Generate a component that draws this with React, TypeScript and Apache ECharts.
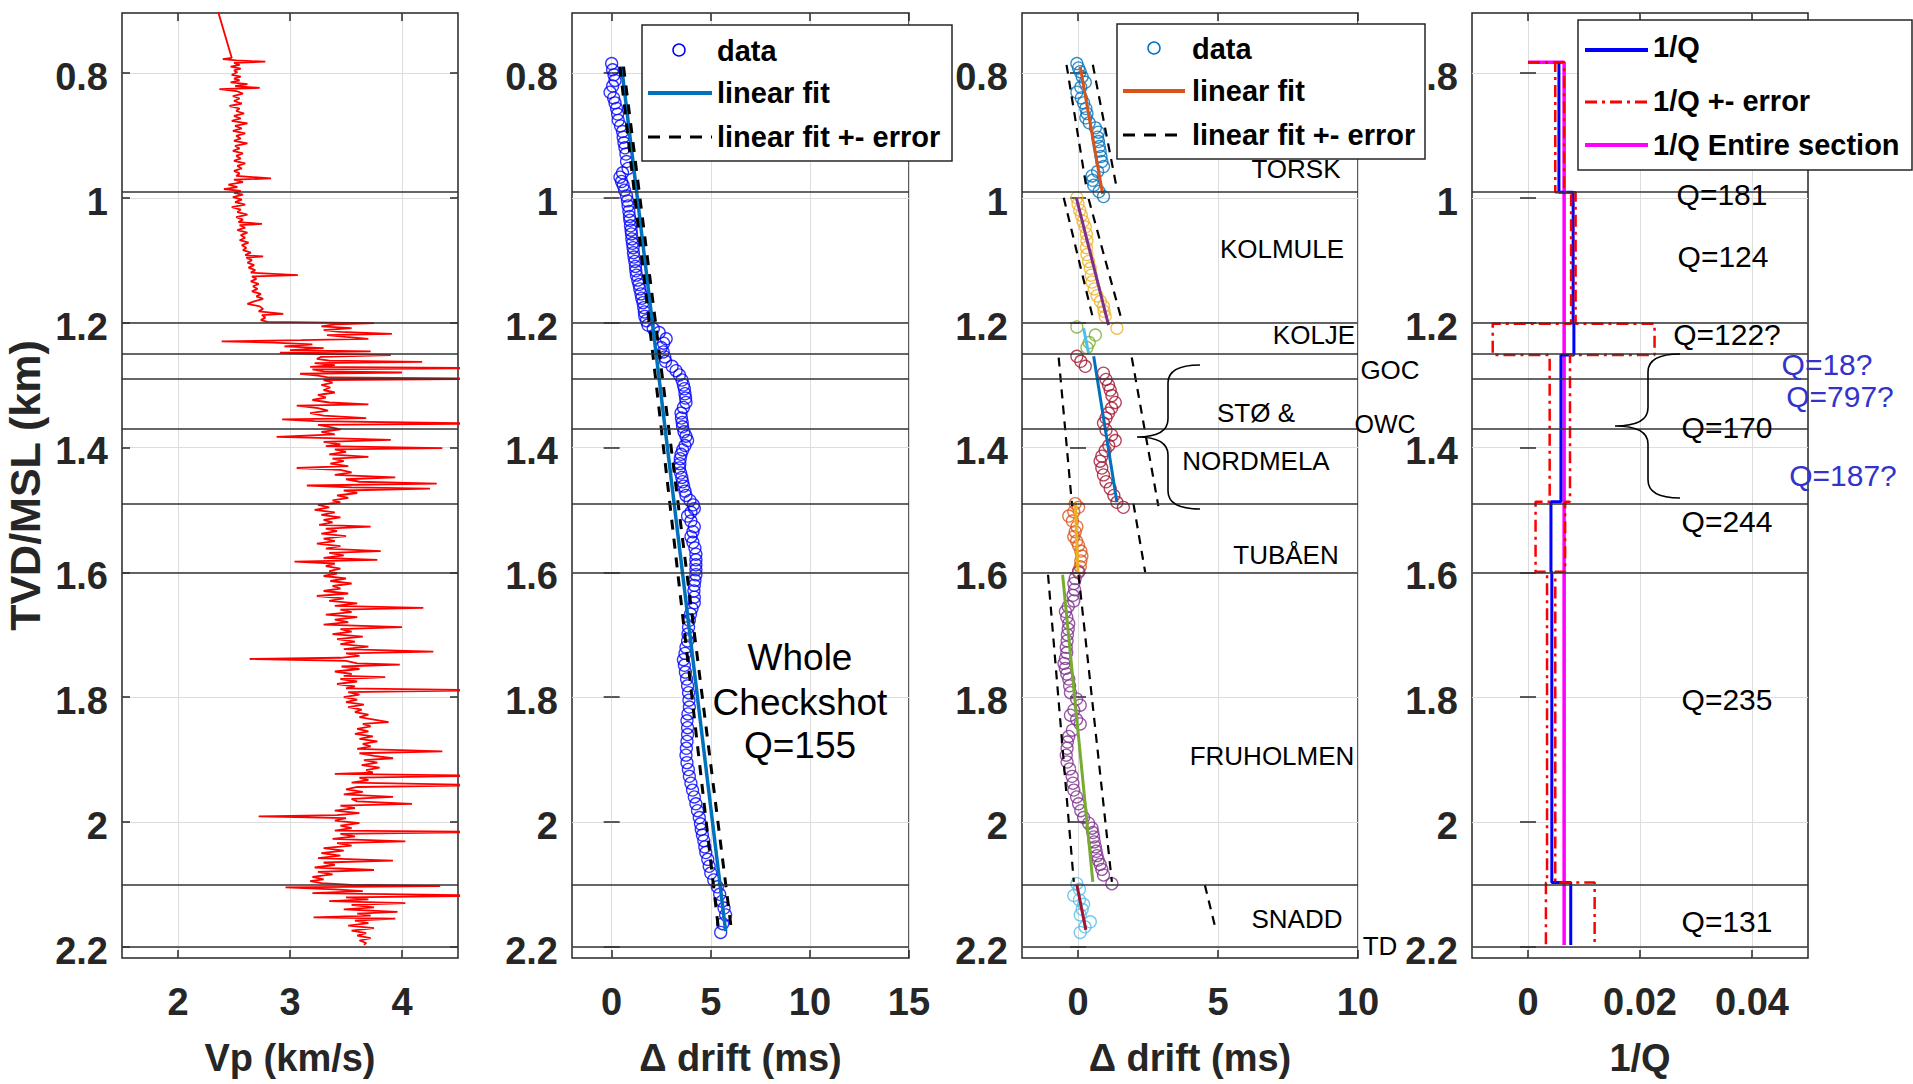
import React, { useEffect, useRef } from 'react';
import * as echarts from 'echarts';

// ---------------- DATA ----------------
const DEPTH_TICKS = [0.8, 1.0, 1.2, 1.4, 1.6, 1.8, 2.0, 2.2];
const VP_TICKS = [2, 3, 4];
const DRIFT_TICKS_A = [0, 5, 10, 15];
const DRIFT_TICKS_B = [0, 5, 10];
const INVQ_TICKS = [0, 0.02, 0.04];

// formation boundaries (km)
const FORMATION_LINES = [0.991, 1.202, 1.252, 1.288, 1.367, 1.487, 1.599, 2.097, 2.197];

// Vp log [depth km, Vp km/s]
const VP_LOG = [
  [0.703, 2.36], [0.776, 2.48], [0.778, 2.40], [0.780, 2.52], [0.782, 2.78], [0.784, 2.50], [0.787, 2.55], [0.790, 2.47], [0.793, 2.56], [0.796, 2.50], [0.799, 2.53],
  [0.803, 2.48], [0.806, 2.56], [0.809, 2.50], [0.812, 2.55], [0.815, 2.47], [0.818, 2.62], [0.821, 2.51], [0.824, 2.73], [0.826, 2.37], [0.829, 2.52], [0.833, 2.58], [0.837, 2.49], [0.841, 2.55], [0.845, 2.50], [0.849, 2.57],
  [0.853, 2.46], [0.857, 2.55], [0.861, 2.52], [0.865, 2.59], [0.869, 2.50], [0.873, 2.56], [0.877, 2.48], [0.881, 2.62], [0.885, 2.51], [0.889, 2.57], [0.893, 2.49], [0.897, 2.60], [0.901, 2.52], [0.905, 2.56], [0.909, 2.50], [0.913, 2.62], [0.917, 2.51], [0.921, 2.55], [0.925, 2.49], [0.929, 2.58], [0.933, 2.52], [0.937, 2.56], [0.941, 2.50], [0.945, 2.60], [0.949, 2.53], [0.953, 2.57], [0.957, 2.50], [0.961, 2.55], [0.965, 2.52], [0.969, 2.83], [0.971, 2.50], [0.975, 2.58], [0.979, 2.45], [0.983, 2.53], [0.986, 2.41], [0.989, 2.56], [0.992, 2.50],
  [0.995, 2.58], [0.999, 2.49], [1.003, 2.57], [1.007, 2.51], [1.011, 2.60], [1.015, 2.48], [1.019, 2.56], [1.023, 2.53], [1.027, 2.62], [1.031, 2.52], [1.035, 2.58], [1.039, 2.54], [1.042, 2.75], [1.044, 2.55], [1.048, 2.60], [1.052, 2.53], [1.056, 2.62], [1.060, 2.56], [1.064, 2.60], [1.068, 2.55], [1.072, 2.63], [1.076, 2.57], [1.080, 2.61], [1.084, 2.58], [1.088, 2.65], [1.092, 2.60], [1.094, 2.76], [1.096, 2.61], [1.100, 2.66],
  [1.104, 2.62], [1.108, 2.68], [1.112, 2.63], [1.116, 2.69], [1.120, 2.65], [1.124, 3.07], [1.126, 2.66], [1.130, 2.70], [1.134, 2.65], [1.138, 2.72], [1.142, 2.67], [1.146, 2.71], [1.150, 2.66], [1.154, 2.74], [1.158, 2.70], [1.162, 2.76], [1.166, 2.68], [1.170, 2.62], [1.174, 2.73], [1.178, 2.76], [1.182, 2.72], [1.186, 2.94], [1.188, 2.75], [1.192, 2.78], [1.196, 2.74], [1.199, 2.80],
  [1.201, 3.75], [1.203, 3.40], [1.206, 3.28], [1.209, 3.55], [1.212, 3.30], [1.215, 3.45], [1.218, 3.91], [1.220, 3.33], [1.223, 3.50], [1.226, 3.70], [1.228, 3.10], [1.230, 2.39], [1.232, 2.85], [1.235, 3.20], [1.238, 2.95], [1.241, 3.30], [1.244, 3.00], [1.246, 3.72], [1.248, 2.91], [1.250, 3.20],
  [1.252, 3.90], [1.255, 3.28], [1.258, 3.24], [1.261, 3.35], [1.263, 4.18], [1.265, 3.22], [1.268, 3.40], [1.271, 3.18], [1.273, 4.8], [1.275, 3.20], [1.278, 3.30], [1.280, 4.00], [1.282, 3.09], [1.285, 3.25], [1.288, 3.35], [1.290, 4.8], [1.292, 3.30],
  [1.296, 3.38], [1.300, 3.28], [1.304, 3.36], [1.308, 3.30], [1.312, 3.40], [1.316, 3.25], [1.320, 3.32], [1.324, 3.20], [1.328, 3.35], [1.331, 3.70], [1.333, 3.06], [1.337, 3.25], [1.341, 3.34], [1.345, 3.18], [1.349, 3.30], [1.353, 3.68], [1.355, 2.93], [1.358, 3.22], [1.362, 4.8], [1.364, 3.25], [1.367, 3.35],
  [1.371, 3.45], [1.375, 3.28], [1.379, 3.40], [1.383, 2.88], [1.385, 3.35], [1.388, 3.90], [1.391, 3.30], [1.395, 3.45], [1.398, 3.32], [1.401, 4.36], [1.403, 3.40], [1.407, 3.50], [1.411, 3.35], [1.415, 3.70], [1.418, 3.38], [1.422, 3.48], [1.426, 3.36], [1.430, 3.52], [1.433, 3.06], [1.436, 3.45], [1.440, 3.55], [1.444, 3.40], [1.448, 3.94], [1.451, 3.50], [1.455, 3.62], [1.458, 4.31], [1.461, 3.15], [1.464, 3.55], [1.466, 4.25], [1.469, 3.48], [1.473, 3.60], [1.477, 3.42], [1.481, 3.52], [1.485, 3.38], [1.488, 3.45],
  [1.492, 3.25], [1.496, 3.35], [1.500, 3.22], [1.504, 3.40], [1.508, 3.28], [1.512, 3.45], [1.516, 3.30], [1.520, 3.38], [1.524, 3.26], [1.527, 3.72], [1.530, 3.32], [1.534, 3.42], [1.538, 3.28], [1.542, 3.50], [1.546, 3.30], [1.550, 3.40], [1.554, 3.24], [1.558, 3.45], [1.562, 3.32], [1.566, 3.81], [1.569, 3.35], [1.573, 3.48], [1.577, 3.30], [1.580, 3.78], [1.583, 3.04], [1.586, 3.40], [1.590, 3.32], [1.594, 3.45], [1.598, 3.35],
  [1.602, 3.42], [1.606, 3.30], [1.610, 3.50], [1.614, 3.36], [1.618, 3.55], [1.622, 3.38], [1.626, 3.45], [1.630, 3.30], [1.634, 3.52], [1.638, 3.24], [1.642, 3.48], [1.646, 3.35], [1.650, 3.60], [1.654, 3.40], [1.657, 4.19], [1.660, 3.45], [1.664, 3.55], [1.668, 3.32], [1.672, 3.60], [1.676, 3.40], [1.680, 3.52], [1.684, 3.30], [1.688, 4.00], [1.691, 3.45], [1.695, 3.55], [1.699, 3.38], [1.703, 3.65], [1.707, 3.42], [1.711, 3.58], [1.715, 3.45], [1.719, 3.70], [1.723, 3.48], [1.727, 4.28], [1.730, 3.50], [1.734, 3.62], [1.737, 3.45], [1.739, 2.64], [1.742, 3.50], [1.746, 3.60], [1.748, 3.98], [1.751, 3.46], [1.755, 3.62], [1.759, 3.40], [1.763, 3.55], [1.766, 3.48], [1.768, 3.85], [1.771, 3.45], [1.775, 3.60], [1.779, 3.42], [1.783, 3.58], [1.786, 3.50], [1.789, 4.8], [1.792, 3.52], [1.796, 3.62], [1.800, 3.48],
  [1.804, 3.60], [1.808, 3.50], [1.812, 3.66], [1.816, 3.52], [1.820, 3.64], [1.824, 3.58], [1.828, 3.70], [1.832, 3.62], [1.836, 3.75], [1.840, 3.88], [1.843, 3.65], [1.847, 3.72], [1.851, 3.60], [1.855, 3.70], [1.859, 3.58], [1.863, 3.74], [1.867, 3.62], [1.871, 3.78], [1.875, 3.65], [1.879, 3.72], [1.883, 3.60], [1.887, 4.36], [1.890, 3.62], [1.894, 3.75], [1.898, 3.92], [1.901, 3.66], [1.905, 3.78], [1.909, 3.64], [1.913, 3.80], [1.917, 3.68], [1.921, 3.74], [1.923, 3.40], [1.926, 4.8], [1.929, 3.62], [1.933, 3.70], [1.937, 3.55], [1.941, 4.8], [1.944, 3.60], [1.948, 3.50], [1.952, 3.65], [1.956, 3.48], [1.960, 3.92], [1.963, 3.55], [1.967, 3.60], [1.971, 4.09], [1.974, 3.45], [1.978, 3.58], [1.982, 3.40], [1.986, 3.62], [1.989, 3.42], [1.991, 2.72], [1.994, 3.50], [1.998, 3.40], [2.002, 3.62], [2.006, 3.45], [2.010, 3.55], [2.014, 3.40],
  [2.016, 4.8], [2.019, 3.45], [2.023, 3.58], [2.027, 3.38], [2.031, 4.03], [2.034, 3.42], [2.038, 3.55], [2.042, 3.30], [2.046, 3.48], [2.050, 3.28], [2.054, 3.45], [2.058, 3.25], [2.062, 3.92], [2.065, 3.30], [2.069, 3.40], [2.073, 3.22], [2.077, 3.75], [2.080, 3.25], [2.084, 3.38], [2.088, 3.20], [2.092, 3.30], [2.095, 3.18], [2.098, 3.28],
  [2.101, 3.55], [2.103, 4.34], [2.105, 2.96], [2.108, 3.40], [2.111, 3.65], [2.114, 3.20], [2.118, 4.8], [2.121, 3.50], [2.124, 3.70], [2.127, 3.35], [2.130, 4.03], [2.133, 3.55], [2.137, 3.75], [2.140, 3.48], [2.144, 3.96], [2.147, 3.60], [2.150, 3.72], [2.153, 3.21], [2.155, 3.94], [2.158, 3.58], [2.162, 3.70], [2.166, 3.52], [2.170, 3.75], [2.174, 3.55], [2.178, 3.68], [2.182, 3.60], [2.186, 3.72], [2.190, 3.62], [2.194, 3.68], [2.197, 3.66],
];

// Whole checkshot drift [depth, drift ms]
const DRIFT_ALL = [
  [0.785, 0.00], [0.795, 0.05], [0.803, 0.12], [0.812, 0.17], [0.821, 0.05], [0.831, -0.08], [0.840, 0.10], [0.848, 0.17], [0.857, 0.25], [0.866, 0.30], [0.876, 0.33], [0.885, 0.45], [0.894, 0.55], [0.903, 0.58], [0.912, 0.62], [0.920, 0.67], [0.930, 0.72], [0.942, 0.75], [0.953, 0.83], [0.960, 0.55], [0.967, 0.42], [0.974, 0.50], [0.980, 0.58], [0.988, 0.65], [0.997, 0.75],
  [1.005, 0.80], [1.013, 0.83], [1.022, 0.87], [1.030, 0.90], [1.036, 0.92], [1.045, 0.95], [1.052, 0.98], [1.058, 1.00], [1.066, 1.02], [1.073, 1.05], [1.080, 1.08], [1.088, 1.10], [1.095, 1.13], [1.102, 1.17], [1.110, 1.20], [1.117, 1.22], [1.124, 1.25], [1.132, 1.32], [1.139, 1.38], [1.146, 1.42], [1.154, 1.48], [1.161, 1.52], [1.168, 1.58], [1.176, 1.62], [1.183, 1.65], [1.190, 1.67], [1.197, 1.75],
  [1.204, 1.83], [1.210, 2.10], [1.216, 2.40], [1.226, 2.75], [1.233, 2.62], [1.240, 2.50], [1.247, 2.60], [1.255, 2.68], [1.262, 2.72], [1.270, 3.05], [1.277, 3.25], [1.284, 3.42], [1.292, 3.55], [1.300, 3.62], [1.306, 3.67], [1.314, 3.70], [1.321, 3.73], [1.328, 3.75], [1.336, 3.62], [1.345, 3.50], [1.353, 3.52], [1.360, 3.56], [1.367, 3.58], [1.375, 3.65], [1.382, 3.75], [1.389, 3.83], [1.397, 3.70],
  [1.404, 3.58], [1.411, 3.50], [1.418, 3.46], [1.426, 3.44], [1.433, 3.42], [1.441, 3.48], [1.448, 3.54], [1.455, 3.58], [1.462, 3.63], [1.470, 3.70], [1.477, 3.75], [1.485, 3.95], [1.492, 4.12], [1.498, 4.17], [1.504, 4.00], [1.510, 3.83], [1.518, 4.00], [1.527, 4.17], [1.535, 4.10], [1.543, 4.00], [1.552, 4.10], [1.561, 4.20], [1.571, 4.25], [1.580, 4.25], [1.588, 4.25], [1.596, 4.25],
  [1.604, 4.25], [1.613, 4.20], [1.621, 4.17], [1.630, 4.15], [1.640, 4.17], [1.649, 4.17], [1.658, 4.05], [1.667, 3.98], [1.677, 3.92], [1.688, 3.88], [1.699, 3.85], [1.710, 3.83], [1.720, 3.75], [1.730, 3.70], [1.740, 3.62], [1.749, 3.67], [1.760, 3.72], [1.771, 3.78], [1.782, 3.83], [1.793, 3.88],
  [1.805, 3.90], [1.816, 3.92], [1.827, 3.85], [1.838, 3.80], [1.849, 3.83], [1.860, 3.83], [1.871, 3.80], [1.882, 3.77], [1.893, 3.75], [1.905, 3.80], [1.916, 3.87], [1.927, 3.92], [1.938, 4.00], [1.949, 4.08], [1.960, 4.17], [1.971, 4.25], [1.982, 4.33], [1.993, 4.42],
  [2.003, 4.48], [2.012, 4.52], [2.021, 4.58], [2.030, 4.65], [2.040, 4.70], [2.049, 4.75], [2.060, 4.85], [2.071, 4.92], [2.082, 5.00], [2.093, 5.15], [2.104, 5.33], [2.116, 5.45], [2.127, 5.58], [2.138, 5.67], [2.149, 5.75], [2.163, 5.60], [2.177, 5.50],
];
const DRIFT_ALL_FIT = [[0.79, 0.50], [2.175, 5.75]];
const DRIFT_ALL_LOW = [[0.79, 0.42], [2.175, 5.40]];
const DRIFT_ALL_HIGH = [[0.79, 0.60], [2.175, 6.05]];

// Per-formation drift [depth, drift ms]
const TORSK_DATA = [[0.785, -0.04], [0.792, 0.02], [0.798, 0.08], [0.806, 0.15], [0.815, 0.26], [0.823, 0.10], [0.831, -0.04], [0.840, 0.12], [0.848, 0.20], [0.857, 0.28], [0.865, 0.32], [0.872, 0.28], [0.880, 0.40], [0.888, 0.62], [0.895, 0.73], [0.903, 0.70], [0.910, 0.73], [0.918, 0.76], [0.925, 0.79], [0.934, 0.82], [0.942, 0.85], [0.950, 0.91], [0.958, 0.70], [0.965, 0.50], [0.972, 0.52], [0.980, 0.56], [0.990, 0.75], [0.998, 0.91]];
const TORSK_FIT = [[0.79, 0.08], [0.994, 0.88]];
const TORSK_LOW = [[0.787, -0.41], [0.989, 0.32]];
const TORSK_HIGH = [[0.787, 0.53], [0.986, 1.39]];

const KOLMULE_DATA = [[1.000, -0.04], [1.010, 0.00], [1.020, 0.06], [1.028, 0.12], [1.038, 0.18], [1.047, 0.26], [1.058, 0.30], [1.069, 0.32], [1.080, 0.30], [1.091, 0.32], [1.102, 0.38], [1.113, 0.44], [1.124, 0.47], [1.135, 0.50], [1.146, 0.58], [1.157, 0.68], [1.166, 0.80], [1.174, 0.91], [1.182, 0.93], [1.190, 0.97], [1.209, 1.39]];
const KOLMULE_FIT = [[1.0, -0.06], [1.204, 1.09]];
const KOLMULE_LOW = [[1.0, -0.51], [1.198, 0.56]];
const KOLMULE_HIGH = [[1.002, 0.38], [1.196, 1.56]];

const KOLJE_DATA = [[1.207, -0.04], [1.220, 0.62], [1.232, 0.40], [1.240, 0.32]];
const KOLJE_FIT = [[1.209, 0.20], [1.250, 0.38]];

const STO_DATA = [[1.254, -0.04], [1.262, 0.10], [1.270, 0.26], [1.281, 0.91], [1.291, 1.00], [1.300, 1.09], [1.308, 1.15], [1.317, 1.21], [1.328, 1.33], [1.337, 1.20], [1.345, 1.09], [1.353, 1.00], [1.361, 0.91], [1.372, 1.00], [1.380, 1.20], [1.389, 1.33], [1.397, 1.10], [1.405, 0.97], [1.414, 0.85], [1.422, 0.79], [1.433, 0.85], [1.444, 0.91], [1.455, 1.00], [1.466, 1.15], [1.477, 1.28], [1.488, 1.39], [1.496, 1.62]];
const STO_FIT = [[1.254, 0.56], [1.488, 1.39]];
const STO_LOW = [[1.256, -0.69], [1.494, -0.21]];
const STO_HIGH = [[1.256, 1.92], [1.494, 2.87]];

const TUBAEN_DATA = [[1.490, -0.10], [1.496, 0.02], [1.503, -0.15], [1.510, -0.33], [1.518, -0.20], [1.527, -0.04], [1.535, -0.10], [1.543, -0.15], [1.550, -0.05], [1.557, 0.02], [1.566, 0.10], [1.574, 0.14], [1.582, 0.10], [1.591, 0.08], [1.598, 0.02]];
const TUBAEN_FIT = [[1.488, -0.10], [1.600, 0.00]];
const TUBAEN_HIGH = [[1.490, 1.98], [1.600, 2.40]];

const FRU_DATA = [[1.600, 0.02], [1.610, -0.10], [1.618, -0.15], [1.628, -0.12], [1.637, -0.18], [1.646, -0.15], [1.655, -0.35], [1.663, -0.45], [1.672, -0.40], [1.682, -0.33], [1.691, -0.35], [1.700, -0.38], [1.710, -0.39], [1.720, -0.42], [1.729, -0.40], [1.738, -0.45], [1.746, -0.50], [1.754, -0.45], [1.763, -0.40], [1.771, -0.33], [1.782, -0.30], [1.793, -0.27], [1.803, -0.05], [1.813, 0.08], [1.821, -0.15], [1.829, -0.27], [1.836, -0.05], [1.843, 0.08], [1.853, -0.20], [1.863, -0.33], [1.872, -0.38], [1.882, -0.39], [1.893, -0.42], [1.904, -0.39], [1.915, -0.30], [1.927, -0.21], [1.938, -0.18], [1.949, -0.15], [1.960, -0.05], [1.971, 0.02], [1.982, 0.10], [1.993, 0.20], [2.002, 0.38], [2.010, 0.50], [2.017, 0.53], [2.024, 0.56], [2.032, 0.58], [2.040, 0.62], [2.047, 0.65], [2.054, 0.68], [2.061, 0.72], [2.068, 0.79], [2.076, 0.85], [2.085, 0.91], [2.099, 1.21]];
const FRU_FIT = [[1.604, -0.55], [2.096, 0.53]];
const FRU_LOW = [[1.604, -1.07], [2.096, -0.15]];
const FRU_HIGH = [[1.604, 0.02], [2.096, 1.21]];

const SNADD_DATA = [[2.099, -0.04], [2.108, 0.05], [2.118, -0.15], [2.125, 0.05], [2.132, 0.20], [2.140, 0.15], [2.149, 0.08], [2.160, 0.44], [2.168, 0.25], [2.177, 0.08]];
const SNADD_FIT = [[2.101, -0.04], [2.173, 0.28]];
const SNADD_HIGH = [[2.101, 4.53], [2.165, 4.88]];

// 1/Q panel
const Q_TOPS = [0.783, 0.991, 1.202, 1.252, 1.487, 1.599, 2.097];
const Q_BOTTOMS = [0.991, 1.202, 1.252, 1.487, 1.599, 2.097, 2.197];
const Q_VALUES = [181, 124, 122, 170, 244, 235, 131];
const INVQ_LOW = [0.00487, 0.0077, -0.0063, 0.00387, 0.00135, 0.0034, 0.0032];
const INVQ_HIGH = [0.00645, 0.0085, 0.0226, 0.0075, 0.00663, 0.00487, 0.0119];
const Q_ENTIRE = 155;

// ---------------- LAYOUT ----------------
const FONT = "'Liberation Sans', Arial, Helvetica, sans-serif";
const AX = '#262626';
const GRID_LEFT = [122, 572, 1022, 1472];
const GRID_WIDTH = [336, 337, 336, 336];
const GRID_TOP = 13;
const GRID_HEIGHT = 945;
const X_RANGES = [[1.5, 4.5], [-2, 15], [-2, 10], [-0.01, 0.05]];
const X_TICKS = [VP_TICKS, DRIFT_TICKS_A, DRIFT_TICKS_B, INVQ_TICKS];
const X_NAMES = ['Vp (km/s)', 'Δ drift (ms)', 'Δ drift (ms)', '1/Q'];
const DEPTH_MIN = 0.704;
const DEPTH_MAX = 2.218;

const C1 = '#0072BD', C2 = '#D95319', C3 = '#EDB120', C4 = '#7E2F8E', C5 = '#77AC30', C6 = '#4DBEEE', C7 = '#A2142F';

const toXY = (pairs: number[][]) => pairs.map(([d, v]) => [v, d]);
function stairs(values: number[], tops: number[], bottoms: number[]) {
  const pts: number[][] = [];
  values.forEach((v, i) => {
    pts.push([v, tops[i]]);
    pts.push([v, bottoms[i]]);
  });
  return pts;
}
function bracePath(xe: number, xm: number, xt: number, yt: number, ym: number, yb: number, r: number) {
  return `M ${xe} ${yt} Q ${xm} ${yt} ${xm} ${yt + r} L ${xm} ${ym - r} Q ${xm} ${ym} ${xt} ${ym} Q ${xm} ${ym} ${xm} ${ym + r} L ${xm} ${yb - r} Q ${xm} ${yb} ${xe} ${yb}`;
}

export default function App() {
  const ref = useRef<HTMLDivElement>(null);
  useEffect(() => {
    if (!ref.current) return;
    echarts.graphic.registerShape('brace3', echarts.graphic.extendPath(bracePath(1200, 1168, 1137, 365, 437, 509, 18), {}));
    echarts.graphic.registerShape('brace4', echarts.graphic.extendPath(bracePath(1680, 1648, 1615, 354, 426, 498, 18), {}));
    const chart = echarts.init(ref.current, undefined, { renderer: 'svg' });

    const grids = GRID_LEFT.map((l, i) => ({
      left: l, top: GRID_TOP, width: GRID_WIDTH[i], height: GRID_HEIGHT,
      show: true, borderColor: AX, borderWidth: 1.5, backgroundColor: 'transparent', containLabel: false,
    }));
    const labelStyle = { fontSize: 38, fontWeight: 'bold', fontFamily: FONT, color: AX };
    const xAxes: any[] = [];
    const yAxes: any[] = [];
    for (let i = 0; i < 4; i++) {
      xAxes.push({
        type: 'value', gridIndex: i, position: 'bottom', min: X_RANGES[i][0], max: X_RANGES[i][1],
        axisLine: { show: false },
        axisTick: { show: true, inside: true, length: 8, customValues: X_TICKS[i], lineStyle: { color: AX, width: 1.5 } },
        axisLabel: { show: true, customValues: X_TICKS[i], margin: 25, ...labelStyle },
        splitLine: { show: true, lineStyle: { color: '#dddddd', width: 1 } },
        name: X_NAMES[i], nameLocation: 'middle', nameGap: 81,
        nameTextStyle: { ...labelStyle },
      });
      yAxes.push({
        type: 'value', gridIndex: i, position: 'left', inverse: true, min: DEPTH_MIN, max: DEPTH_MAX,
        axisLine: { show: false },
        axisTick: { show: true, inside: true, length: 8, customValues: DEPTH_TICKS, lineStyle: { color: AX, width: 1.5 } },
        axisLabel: { show: true, customValues: DEPTH_TICKS, margin: 14, verticalAlign: 'top', lineHeight: 8, ...labelStyle },
        splitLine: { show: true, lineStyle: { color: '#dddddd', width: 1 } },
        ...(i === 0 ? { name: 'TVD/MSL (km)', nameLocation: 'middle', nameGap: 76, nameTextStyle: { ...labelStyle, fontSize: 43 } } : {}),
      });
    }
    for (let i = 0; i < 4; i++) {
      xAxes.push({
        type: 'value', gridIndex: i, position: 'top', min: X_RANGES[i][0], max: X_RANGES[i][1],
        axisLine: { show: false },
        axisTick: { show: true, inside: true, length: 8, customValues: X_TICKS[i], lineStyle: { color: AX, width: 1.5 } },
        axisLabel: { show: false }, splitLine: { show: false },
      });
      yAxes.push({
        type: 'value', gridIndex: i, position: 'right', inverse: true, min: DEPTH_MIN, max: DEPTH_MAX,
        axisLine: { show: false },
        axisTick: { show: true, inside: true, length: 8, customValues: DEPTH_TICKS, lineStyle: { color: AX, width: 1.5 } },
        axisLabel: { show: false }, splitLine: { show: false },
      });
    }

    const formationMarkLine = {
      silent: true, symbol: ['none', 'none'], label: { show: false },
      lineStyle: { color: '#333333', width: 1.6, type: 'solid' },
      emphasis: { disabled: true },
      data: FORMATION_LINES.map((d) => ({ yAxis: d })),
    };
    const line = (g: number, data: number[][], color: string, width: number, type: any = 'solid', extra: any = {}) => ({
      type: 'line', xAxisIndex: g, yAxisIndex: g, data: toXY(data), symbol: 'none', showSymbol: false,
      lineStyle: { color, width, type }, silent: true, ...extra,
    });
    const circles = (g: number, data: number[][], color: string, extra: any = {}) => ({
      type: 'scatter', xAxisIndex: g, yAxisIndex: g, data: toXY(data), symbol: 'circle', symbolSize: 12,
      itemStyle: { color: 'rgba(0,0,0,0)', borderColor: color, borderWidth: 1.3 }, silent: true, ...extra,
    });
    const DASH = [9, 7];

    const invQ = Q_VALUES.map((q) => 1 / q);
    const magenta = [[Q_TOPS[0], 0], [Q_TOPS[0], 1 / Q_ENTIRE], [Q_BOTTOMS[Q_BOTTOMS.length - 1], 1 / Q_ENTIRE]];
    const blueStairs = stairs(invQ, Q_TOPS, Q_BOTTOMS).map(([v, d]) => [d, v]);
    const lowStairs = [[Q_TOPS[0], 0], ...stairs(INVQ_LOW, Q_TOPS, Q_BOTTOMS).map(([v, d]) => [d, v])];
    const highStairs = [[Q_TOPS[0], 0], ...stairs(INVQ_HIGH, Q_TOPS, Q_BOTTOMS).map(([v, d]) => [d, v])];
    const DASHDOT = [12, 5, 3, 5];

    const series: any[] = [
      // panel 1
      line(0, VP_LOG, '#ff0000', 1.8, 'solid', { markLine: formationMarkLine }),
      // panel 2
      circles(1, DRIFT_ALL, '#0000ff', { markLine: formationMarkLine }),
      line(1, DRIFT_ALL_FIT, C1, 3.5),
      line(1, DRIFT_ALL_LOW, '#000000', 3, [10, 9]),
      line(1, DRIFT_ALL_HIGH, '#000000', 3, [10, 9]),
      // panel 3
      circles(2, TORSK_DATA, C1, { markLine: formationMarkLine }),
      line(2, TORSK_FIT, C2, 3),
      line(2, TORSK_LOW, '#000', 2.2, DASH),
      line(2, TORSK_HIGH, '#000', 2.2, DASH),
      circles(2, KOLMULE_DATA, C3),
      line(2, KOLMULE_FIT, C4, 3),
      line(2, KOLMULE_LOW, '#000', 2.2, DASH),
      line(2, KOLMULE_HIGH, '#000', 2.2, DASH),
      circles(2, KOLJE_DATA, C5),
      line(2, KOLJE_FIT, C6, 3),
      circles(2, STO_DATA, C7),
      line(2, STO_FIT, C1, 3),
      line(2, STO_LOW, '#000', 2.2, DASH),
      line(2, STO_HIGH, '#000', 2.2, DASH),
      circles(2, TUBAEN_DATA, C2),
      line(2, TUBAEN_FIT, C3, 3),
      line(2, TUBAEN_HIGH, '#000', 2.2, DASH),
      circles(2, FRU_DATA, C4),
      line(2, FRU_FIT, C5, 3),
      line(2, FRU_LOW, '#000', 2.2, DASH),
      line(2, FRU_HIGH, '#000', 2.2, DASH),
      circles(2, SNADD_DATA, C6),
      line(2, SNADD_FIT, C7, 3),
      line(2, SNADD_HIGH, '#000', 2.2, DASH),
      // panel 4
      line(3, magenta, '#ff00ff', 3.5, 'solid', { markLine: formationMarkLine }),
      line(3, blueStairs, '#0000ff', 3),
      line(3, lowStairs, '#ff0000', 2.5, DASHDOT),
      line(3, highStairs, '#ff0000', 2.5, DASHDOT),
    ];

    const txt = (text: string, x: number, y: number, size: number, opts: any = {}) => ({
      type: 'text', x, y, z: 100,
      style: {
        text, fontSize: size, fontFamily: FONT, fontWeight: opts.weight || 'normal', fill: opts.color || '#000',
        align: opts.align || 'center', verticalAlign: 'middle', textAlign: opts.align || 'center', textVerticalAlign: 'middle',
      },
    });
    const legendBox = (x: number, y: number, w: number, h: number) => ({
      type: 'rect', z: 99, shape: { x, y, width: w, height: h }, style: { fill: '#ffffff', stroke: AX, lineWidth: 1.5 },
    });
    const lseg = (x1: number, x2: number, y: number, color: string, width: number, dash?: number[]) => ({
      type: 'line', z: 100, shape: { x1, y1: y, x2, y2: y }, style: { stroke: color, lineWidth: width, lineDash: dash || null },
    });
    const LW = 'bold';
    const graphics: any[] = [
      // legend panel 2
      legendBox(642, 25, 310, 136),
      { type: 'circle', z: 100, shape: { cx: 679, cy: 50, r: 6 }, style: { fill: 'none', stroke: '#0000ff', lineWidth: 1.5 } },
      lseg(648, 712, 93, C1, 4),
      lseg(648, 712, 137, '#000', 3, [12, 9]),
      txt('data', 717, 51, 29, { align: 'left', weight: LW }),
      txt('linear fit', 717, 93, 29, { align: 'left', weight: LW }),
      txt('linear fit +- error', 717, 137, 29, { align: 'left', weight: LW }),
      // legend panel 3
      legendBox(1117, 24, 308, 135),
      { type: 'circle', z: 100, shape: { cx: 1154, cy: 48, r: 6 }, style: { fill: 'none', stroke: C1, lineWidth: 1.5 } },
      lseg(1123, 1185, 91, C2, 4),
      lseg(1123, 1185, 135, '#000', 3, [12, 9]),
      txt('data', 1192, 49, 29, { align: 'left', weight: LW }),
      txt('linear fit', 1192, 91, 29, { align: 'left', weight: LW }),
      txt('linear fit +- error', 1192, 135, 29, { align: 'left', weight: LW }),
      // legend panel 4
      legendBox(1578, 20, 334, 150),
      lseg(1585, 1648, 50, '#0000ff', 4),
      lseg(1585, 1648, 102, '#ff0000', 3, [12, 5, 3, 5]),
      lseg(1585, 1648, 145, '#ff00ff', 4),
      txt('1/Q', 1653, 47, 29, { align: 'left', weight: LW }),
      txt('1/Q +- error', 1653, 101, 29, { align: 'left', weight: LW }),
      txt('1/Q Entire section', 1653, 145, 29, { align: 'left', weight: LW }),
      // panel 2 annotation
      txt('Whole', 800, 657, 37),
      txt('Checkshot', 800, 702, 37),
      txt('Q=155', 800, 745, 37),
      // panel 3 formation labels
      txt('TORSK', 1296, 169, 26),
      txt('KOLMULE', 1282, 249, 26),
      txt('KOLJE', 1314, 335, 26),
      txt('GOC', 1390, 370, 26),
      txt('STØ &', 1256, 413, 26),
      txt('OWC', 1385, 424, 25),
      txt('NORDMELA', 1256, 461, 26),
      txt('TUBÅEN', 1286, 555, 26),
      txt('FRUHOLMEN', 1272, 756, 26),
      txt('SNADD', 1297, 919, 26),
      txt('TD', 1380, 946, 26),
      // panel 4 Q labels
      txt('Q=181', 1722, 194, 30),
      txt('Q=124', 1723, 256, 30),
      txt('Q=122?', 1727, 334, 30),
      txt('Q=170', 1727, 427, 30),
      txt('Q=244', 1727, 521, 30),
      txt('Q=235', 1727, 699, 30),
      txt('Q=131', 1727, 921, 30),
      txt('Q=18?', 1827, 364, 30, { color: '#3333cc' }),
      txt('Q=797?', 1840, 396, 30, { color: '#3333cc' }),
      txt('Q=187?', 1843, 475, 30, { color: '#3333cc' }),
      // braces
      { type: 'brace3', z: 100, x: 0, y: 0, style: { fill: 'none', stroke: '#000', lineWidth: 1.6 } },
      { type: 'brace4', z: 100, x: 0, y: 0, style: { fill: 'none', stroke: '#000', lineWidth: 1.6 } },
    ];

    chart.setOption({
      animation: false,
      backgroundColor: '#ffffff',
      grid: grids,
      xAxis: xAxes,
      yAxis: yAxes,
      series,
      graphic: { elements: graphics },
    });
    return () => chart.dispose();
  }, []);
  return <div ref={ref} style={{ position: 'absolute', left: 0, top: 0, width: 1913, height: 1084, background: '#fff' }} />;
}
